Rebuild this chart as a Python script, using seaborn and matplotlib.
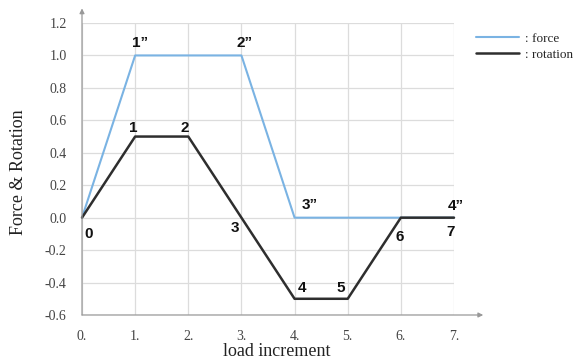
import matplotlib
matplotlib.use("Agg")
import matplotlib.pyplot as plt
import seaborn as sns
import pandas as pd
from matplotlib.lines import Line2D

# data
increments = [0, 1, 2, 3, 4, 5, 6, 7]
force = [0.0, 1.0, 1.0, 1.0, 0.0, 0.0, 0.0, 0.0]
rotation = [0.0, 0.5, 0.5, 0.0, -0.5, -0.5, 0.0, 0.0]
x_tick_labels = ["0.", "1.", "2.", "3.", "4.", "5.", "6.", "7."]
y_ticks = [-0.6, -0.4, -0.2, 0.0, 0.2, 0.4, 0.6, 0.8, 1.0, 1.2]
rot_labels = ["0", "1", "2", "3", "4", "5", "6", "7"]
force_labels = {1: "1\u201d", 3: "2\u201d", 4: "3\u201d", 7: "4\u201d"}

sns.set_style("white")
plt.rcParams["font.family"] = ["Liberation Serif", "DejaVu Serif"]

FORCE_C = "#7ab3e3"
ROT_C = "#2e2e2e"

fig = plt.figure(figsize=(5.78, 3.62), dpi=100)
ax = fig.add_axes([82 / 578, 1 - 315 / 362, (454 - 82) / 578, (315 - 23) / 362])

df = pd.DataFrame({"inc": increments * 2,
                   "val": force + rotation,
                   "series": [": force"] * len(force) + [": rotation"] * len(rotation)})

sns.lineplot(data=df, x="inc", y="val", hue="series",
             palette={": force": FORCE_C, ": rotation": ROT_C},
             ax=ax, legend=False, estimator=None, sort=False)
for ln, lw in zip(ax.lines, [1.5, 1.8]):
    ln.set_linewidth(lw)
    ln.set_clip_on(False)
ax.set_xlabel("")
ax.set_ylabel("")

ax.set_xlim(0, 7)
ax.set_ylim(-0.6, 1.2)
ax.set_xticks(increments)
ax.set_xticklabels(x_tick_labels)
ax.set_yticks(y_ticks)
ax.set_yticklabels([f"{v:.1f}" for v in y_ticks])
ax.grid(True, color="#dcdcdc", linewidth=0.9)
ax.set_axisbelow(True)
for s in ax.spines.values():
    s.set_visible(False)
ax.tick_params(axis="both", length=0, labelcolor="#444444", labelsize=10)
ax.tick_params(axis="y", pad=11)
ax.tick_params(axis="x", pad=11)

# axis arrows
ax.annotate("", xy=(7.55, -0.6), xytext=(0, -0.6), xycoords="data",
            arrowprops=dict(arrowstyle="-|>", color="#999999", lw=0.9,
                            mutation_scale=7, shrinkA=0, shrinkB=0),
            annotation_clip=False)
ax.annotate("", xy=(0, 1.29), xytext=(0, -0.6), xycoords="data",
            arrowprops=dict(arrowstyle="-|>", color="#999999", lw=0.9,
                            mutation_scale=7, shrinkA=0, shrinkB=0),
            annotation_clip=False)

fig.text(277 / 578, 1 - 351 / 362, "load increment", fontsize=13, color="#222222",
         ha="center", va="center")
fig.text(19 / 578, 1 - 172 / 362, "Force & Rotation", fontsize=13, color="#222222",
         ha="center", va="center", rotation=90)

# point labels
rot_offsets = [(7, -16), (-2, 9), (-4, 9), (-6, -10), (7, 11), (-7, 11), (-1, -19), (-3, -14)]
for x, y, lab, (dx, dy) in zip(increments, rotation, rot_labels, rot_offsets):
    ax.annotate(lab, (x, y), xytext=(dx, dy), textcoords="offset pixels",
                ha="center", va="center", fontsize=11, fontweight="bold",
                family=["Liberation Sans", "DejaVu Sans"], color="#111111",
                annotation_clip=False)
force_offsets = {1: (5, 12), 3: (3, 12), 4: (15, 13), 7: (2, 12)}
for i, lab in force_labels.items():
    dx, dy = force_offsets[i]
    ax.annotate(lab, (increments[i], force[i]), xytext=(dx, dy), textcoords="offset pixels",
                ha="center", va="center", fontsize=11, fontweight="bold",
                family=["Liberation Sans", "DejaVu Sans"], color="#111111",
                annotation_clip=False)

handles = [Line2D([], [], color=FORCE_C, lw=1.5), Line2D([], [], color=ROT_C, lw=1.8)]
fig.legend(handles, [": force", ": rotation"], loc="upper left",
           bbox_to_anchor=(464 / 578, 1 - 21 / 362), frameon=False,
           fontsize=9.5, handlelength=3.3, handletextpad=0.4, labelspacing=0.25)

fig.savefig("out.png", dpi=100)
